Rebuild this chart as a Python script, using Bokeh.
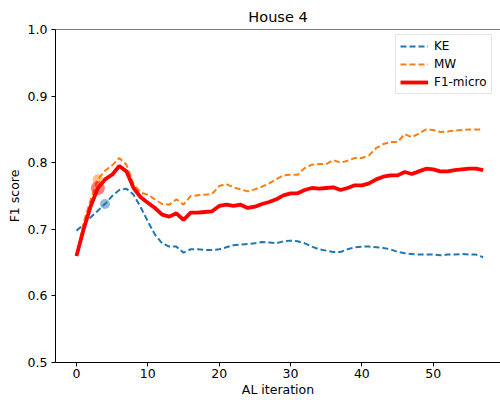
from bokeh.plotting import figure
from bokeh.models import Range1d, FixedTicker, Legend, LegendItem, Span, PrintfTickFormatter
from bokeh.embed import file_html
from bokeh.resources import INLINE

iterations = list(range(58))
ke = [0.698, 0.707, 0.718, 0.728, 0.738, 0.750, 0.759, 0.761, 0.752, 0.733,
      0.712, 0.692, 0.679, 0.674, 0.674, 0.665, 0.670, 0.670, 0.669, 0.669,
      0.670, 0.673, 0.676, 0.677, 0.678, 0.679, 0.681, 0.680, 0.679, 0.682,
      0.683, 0.682, 0.679, 0.674, 0.670, 0.668, 0.666, 0.666, 0.670, 0.673,
      0.674, 0.674, 0.673, 0.672, 0.670, 0.666, 0.664, 0.663, 0.662, 0.662,
      0.662, 0.661, 0.662, 0.662, 0.663, 0.662, 0.662, 0.658]
mw = [0.660, 0.710, 0.745, 0.775, 0.788, 0.796, 0.807, 0.797, 0.768, 0.755,
      0.752, 0.745, 0.738, 0.737, 0.745, 0.737, 0.750, 0.751, 0.752, 0.753,
      0.765, 0.768, 0.763, 0.760, 0.757, 0.760, 0.764, 0.769, 0.775, 0.781,
      0.782, 0.782, 0.792, 0.797, 0.798, 0.798, 0.804, 0.800, 0.803, 0.807,
      0.807, 0.811, 0.822, 0.828, 0.831, 0.831, 0.843, 0.838, 0.844, 0.850,
      0.849, 0.846, 0.847, 0.848, 0.849, 0.850, 0.850, 0.850]
f1 = [0.660, 0.700, 0.735, 0.762, 0.775, 0.782, 0.795, 0.787, 0.762, 0.748,
      0.740, 0.732, 0.722, 0.719, 0.724, 0.714, 0.725, 0.725, 0.726, 0.727,
      0.735, 0.737, 0.735, 0.737, 0.732, 0.734, 0.738, 0.741, 0.745, 0.751,
      0.754, 0.754, 0.759, 0.762, 0.761, 0.762, 0.763, 0.759, 0.762, 0.766,
      0.766, 0.769, 0.775, 0.779, 0.781, 0.781, 0.786, 0.783, 0.787, 0.791,
      0.790, 0.787, 0.787, 0.789, 0.790, 0.791, 0.791, 0.789]
ke_marker_idx = 4
mw_marker_idx = 3
f1_marker_idx = 3
x_ticks = [0, 10, 20, 30, 40, 50]
y_ticks = [0.5, 0.6, 0.7, 0.8, 0.9, 1.0]

FONT = "DejaVu Sans"

p = figure(width=500, height=400, output_backend="svg", toolbar_location=None,
           x_range=Range1d(-2.94, 59.43), y_range=Range1d(0.5, 1.0),
           min_border_left=55, min_border_right=0, min_border_top=29, min_border_bottom=38,
           title="House 4")
p.title.text_font = FONT
p.title.text_font_size = "14.5px"
p.title.text_font_style = "normal"
p.title.align = "center"
p.title.text_color = "black"
p.title.standoff = 9

p.grid.visible = False
p.outline_line_color = None
p.background_fill_color = "white"
p.border_fill_color = "white"

for ax in (p.xaxis, p.yaxis):
    ax.axis_line_color = "black"
    ax.axis_line_width = 1
    ax.major_tick_out = 4
    ax.major_tick_in = 0
    ax.minor_tick_line_color = None
    ax.major_label_text_font = FONT
    ax.major_label_text_font_size = "12.5px"
    ax.major_label_text_color = "black"
    ax.axis_label_text_font = FONT
    ax.axis_label_text_font_size = "12.5px"
    ax.axis_label_text_font_style = "normal"
    ax.axis_label_text_color = "black"

p.xaxis.ticker = FixedTicker(ticks=x_ticks)
p.yaxis.ticker = FixedTicker(ticks=y_ticks)
p.yaxis.formatter = PrintfTickFormatter(format="%.1f")
p.xaxis.axis_label = "AL iteration"
p.yaxis.axis_label = "F1 score"
p.xaxis.axis_label_standoff = 1
p.yaxis.axis_label_standoff = 3
p.xaxis.major_label_standoff = 2
p.yaxis.major_label_standoff = 4

top = Span(location=1.0, dimension="width", line_color="black", line_width=1)
p.add_layout(top)

r_ke = p.line(iterations, ke, line_color="#1f77b4", line_width=2, line_dash="6 3")
r_mw = p.line(iterations, mw, line_color="#ff7f0e", line_width=2, line_dash="6 3")
r_f1 = p.line(iterations, f1, line_color="red", line_width=3.8)

p.scatter([iterations[ke_marker_idx]], [ke[ke_marker_idx]], size=10, fill_color="#1f77b4",
          fill_alpha=0.5, line_color=None)
p.scatter([iterations[mw_marker_idx]], [mw[mw_marker_idx]], size=10, fill_color="#ff7f0e",
          fill_alpha=0.5, line_color=None)
p.scatter([iterations[f1_marker_idx]], [f1[f1_marker_idx]], size=14, fill_color="red",
          fill_alpha=0.5, line_color=None)

legend = Legend(items=[LegendItem(label="KE", renderers=[r_ke]),
                       LegendItem(label="MW", renderers=[r_mw]),
                       LegendItem(label="F1-micro", renderers=[r_f1])],
                location=(340, 268))
legend.label_text_font = FONT
legend.label_text_font_size = "12px"
legend.label_text_color = "black"
legend.glyph_width = 28
legend.glyph_height = 14
legend.label_height = 14
legend.label_width = 20
legend.spacing = 4
legend.padding = 4
legend.margin = 0
legend.label_standoff = 6
legend.border_line_color = "#cccccc"
legend.border_line_width = 1
legend.background_fill_alpha = 0.8
p.add_layout(legend)

open("out.html", "w").write(file_html(p, INLINE))
